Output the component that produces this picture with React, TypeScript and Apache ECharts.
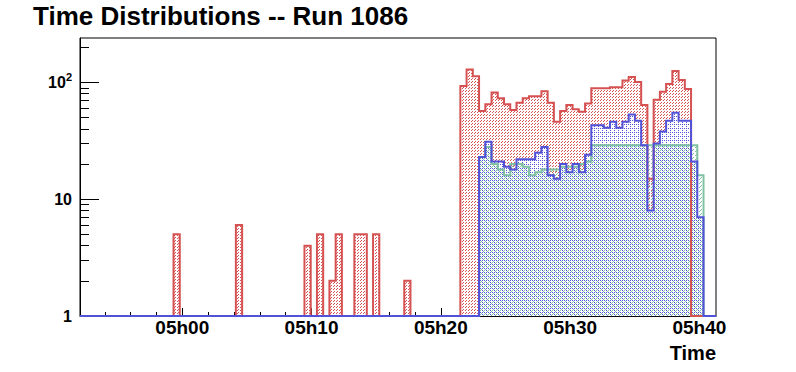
import { useEffect, useRef } from 'react';
import * as echarts from 'echarts';

// ---------- texts ----------
const TITLE = 'Time Distributions -- Run 1086';
const X_TITLE = 'Time';
const FONT = '"Liberation Sans", Arial, Helvetica, sans-serif';

// ---------- binning (minutes after midnight) ----------
const N_BINS = 102;
const HIST_START_MIN = 292.085; // ~04h52m05s
const BIN_WIDTH_MIN = 0.4824; // ~29 s per bin
const X_MIN = HIST_START_MIN;
const X_MAX = HIST_START_MIN + N_BINS * BIN_WIDTH_MIN;
const Y_MIN = 1;
const Y_MAX = 240;

// ---------- ticks ----------
const X_MAJOR_TICKS = [300, 310, 320, 330, 340];
const X_MINOR_TICKS = [294, 296, 298, 302, 304, 306, 308, 312, 314, 316, 318, 322, 324, 326, 328, 332, 334, 336, 338];
const Y_MAJOR_TICKS = [1, 10, 100];
const Y_MINOR_TICKS = [2, 3, 4, 5, 6, 7, 8, 9, 20, 30, 40, 50, 60, 70, 80, 90, 200];

// ---------- counts per bin (102 bins) ----------
const redCounts = [
  0, 0, 0, 0, 0, 0, 0, 0, 0, 0,
  0, 0, 0, 0, 0, 5, 0, 0, 0, 0,
  0, 0, 0, 0, 0, 6, 0, 0, 0, 0,
  0, 0, 0, 0, 0, 0, 4, 0, 5, 0,
  2, 5, 0, 0, 5, 5, 0, 5, 0, 0,
  0, 0, 2, 0, 0, 0, 0, 0, 0, 0,
  0, 93, 129, 113, 57, 65, 82, 73, 65, 58,
  67, 73, 76, 76, 84, 67, 46, 57, 64, 59,
  56, 66, 89, 89, 89, 91, 91, 104, 111, 101,
  64, 15, 71, 83, 97, 125, 105, 88, 1, 1,
  0, 0,
];
const blueCounts = [
  0, 0, 0, 0, 0, 0, 0, 0, 0, 0,
  0, 0, 0, 0, 0, 0, 0, 0, 0, 0,
  0, 0, 0, 0, 0, 0, 0, 0, 0, 0,
  0, 0, 0, 0, 0, 0, 0, 0, 0, 0,
  0, 0, 0, 0, 0, 0, 0, 0, 0, 0,
  0, 0, 0, 0, 0, 0, 0, 0, 0, 0,
  0, 0, 0, 0, 23, 31, 21, 21, 19, 18,
  22, 22, 22, 25, 28, 16, 15, 20, 17, 20,
  17, 24, 43, 43, 41, 46, 41, 46, 53, 47,
  29, 8, 30, 38, 47, 55, 47, 47, 21, 7,
  0, 0,
];
const greenCounts = [
  0, 0, 0, 0, 0, 0, 0, 0, 0, 0,
  0, 0, 0, 0, 0, 0, 0, 0, 0, 0,
  0, 0, 0, 0, 0, 0, 0, 0, 0, 0,
  0, 0, 0, 0, 0, 0, 0, 0, 0, 0,
  0, 0, 0, 0, 0, 0, 0, 0, 0, 0,
  0, 0, 0, 0, 0, 0, 0, 0, 0, 0,
  0, 0, 0, 0, 23, 28, 20, 18, 16, 20,
  20, 19, 16, 17, 18, 18, 18, 19, 19, 19,
  20, 21, 29, 29, 29, 29, 29, 29, 29, 29,
  29, 29, 29, 29, 29, 29, 29, 29, 29, 16,
  0, 0,
];

// ---------- colours ----------
const RED = '#d65252';
const BLUE = '#5252d8';
const GREEN = '#80c2a2';

function svgTile(size: number, pixels: number[][], color: string, bg?: string) {
  let s = `<svg xmlns='http://www.w3.org/2000/svg' width='${size}' height='${size}' viewBox='0 0 ${size} ${size}' shape-rendering='crispEdges'>`;
  if (bg) s += `<rect x='0' y='0' width='${size}' height='${size}' fill='${bg}'/>`;
  for (const [x, y] of pixels) s += `<rect x='${x}' y='${y}' width='1' height='1' fill='${color}'/>`;
  s += '</svg>';
  return {
    image: 'data:image/svg+xml;charset=utf-8,' + encodeURIComponent(s),
    repeat: 'repeat',
    imageWidth: size,
    imageHeight: size,
  };
}

function stepData(counts: number[]) {
  const edge = (j: number) => HIST_START_MIN + j * BIN_WIDTH_MIN;
  const val = (v: number) => Math.max(v, Y_MIN);
  const pts: number[][] = [[edge(0), Y_MIN]];
  counts.forEach((v, j) => pts.push([edge(j), val(v)]));
  pts.push([edge(counts.length), val(counts[counts.length - 1])]);
  pts.push([edge(counts.length), Y_MIN]);
  return pts;
}

function fmtTime(v: number) {
  const m = Math.round(v);
  const h = Math.floor(m / 60);
  const mm = m % 60;
  return `${String(h).padStart(2, '0')}h${String(mm).padStart(2, '0')}`;
}

export default function App() {
  const ref = useRef<HTMLDivElement>(null);
  useEffect(() => {
    const el = ref.current;
    if (!el) return;
    const chart = echarts.init(el, undefined, { renderer: 'svg' });

    // dashed "/" hatch for red, dot lattices for blue / green
    const redPat = svgTile(3, [[1, 0], [0, 1]], RED, '#ffffff');
    const bluePat = svgTile(4, [[0, 0], [2, 0], [2, 2]], BLUE, '#ffffff');
    const greenPat = svgTile(4, [[1, 1], [3, 3], [0, 2]], GREEN);

    const area = (name: string, counts: number[], pattern: any, z: number) => ({
      type: 'line',
      name,
      data: stepData(counts),
      step: 'end',
      symbol: 'none',
      showSymbol: false,
      clip: false,
      silent: true,
      z,
      lineStyle: { width: 0, opacity: 0 },
      areaStyle: { color: pattern, opacity: 1, origin: 'start' },
    });
    const line = (name: string, counts: number[], color: string, z: number) => ({
      type: 'line',
      name,
      data: stepData(counts),
      step: 'end',
      symbol: 'none',
      showSymbol: false,
      clip: false,
      silent: true,
      z,
      lineStyle: { color, width: 2, join: 'miter', cap: 'butt' },
    });

    const yLabelStyle = { color: '#000', fontSize: 16, fontWeight: 'bold', fontFamily: FONT };
    const xLabelStyle = { color: '#000', fontSize: 19, fontWeight: 'bold', fontFamily: FONT };

    const option: any = {
      animation: false,
      backgroundColor: '#ffffff',
      textStyle: { fontFamily: FONT },
      title: [
        {
          text: TITLE,
          left: 33,
          top: 3,
          padding: 0,
          textStyle: { fontSize: 26, fontWeight: 'bold', color: '#000', fontFamily: FONT },
        },
        {
          text: X_TITLE,
          right: 80,
          top: 343,
          padding: 0,
          textStyle: { fontSize: 20, fontWeight: 'bold', color: '#000', fontFamily: FONT },
        },
      ],
      grid: {
        left: 80,
        right: 80,
        top: 38,
        bottom: 56,
        show: true,
        borderColor: '#000',
        borderWidth: 1,
        backgroundColor: 'transparent',
      },
      xAxis: [
        {
          type: 'value',
          min: X_MIN,
          max: X_MAX,
          position: 'bottom',
          axisLine: { show: true, onZero: false, lineStyle: { color: '#000', width: 1 } },
          axisTick: { show: true, inside: true, length: 8, customValues: X_MAJOR_TICKS, lineStyle: { color: '#000', width: 1 } },
          axisLabel: { show: true, customValues: X_MAJOR_TICKS, formatter: fmtTime, margin: 2, ...xLabelStyle },
          splitLine: { show: false },
        },
        {
          type: 'value',
          min: X_MIN,
          max: X_MAX,
          position: 'bottom',
          axisLine: { show: false, onZero: false },
          axisTick: { show: true, inside: true, length: 4, customValues: X_MINOR_TICKS, lineStyle: { color: '#000', width: 1 } },
          axisLabel: { show: false },
          splitLine: { show: false },
        },
      ],
      yAxis: [
        {
          type: 'log',
          logBase: 10,
          min: Y_MIN,
          max: Y_MAX,
          position: 'left',
          axisLine: { show: true, onZero: false, lineStyle: { color: '#000', width: 1 } },
          axisTick: { show: true, inside: true, length: 19, customValues: Y_MAJOR_TICKS, lineStyle: { color: '#000', width: 1 } },
          axisLabel: {
            show: true,
            customValues: Y_MAJOR_TICKS,
            margin: 8,
            formatter: (v: number) => {
              const e = Math.round(Math.log10(v));
              return e >= 2 ? `{b|10}{s|${e}}` : `{b|${Math.round(v)}}`;
            },
            rich: {
              b: { ...yLabelStyle, lineHeight: 16, verticalAlign: 'bottom' },
              s: { color: '#000', fontSize: 11, fontWeight: 'bold', fontFamily: FONT, lineHeight: 12, verticalAlign: 'bottom', padding: [0, 0, 8, 0] },
            },
          },
          splitLine: { show: false },
        },
        {
          type: 'log',
          logBase: 10,
          min: Y_MIN,
          max: Y_MAX,
          position: 'left',
          offset: 0,
          axisLine: { show: false, onZero: false },
          axisTick: { show: true, inside: true, length: 9, customValues: Y_MINOR_TICKS, lineStyle: { color: '#000', width: 1 } },
          axisLabel: { show: false },
          splitLine: { show: false },
        },
      ],
      series: [
        area('red-fill', redCounts, redPat, 2),
        area('blue-fill', blueCounts, bluePat, 3),
        area('green-fill', greenCounts, greenPat, 4),
        line('red', redCounts, RED, 5),
        line('green', greenCounts, GREEN, 6),
        line('blue', blueCounts, BLUE, 7),
      ],
    };

    chart.setOption(option);
    return () => chart.dispose();
  }, []);

  return (
    <div
      ref={ref}
      style={{ position: 'fixed', left: 0, top: 0, width: 796, height: 372, background: '#fff' }}
    />
  );
}
